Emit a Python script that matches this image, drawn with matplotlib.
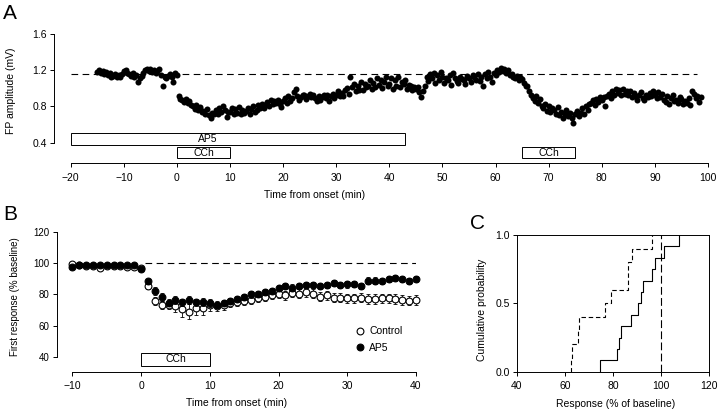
import numpy as np
import matplotlib
matplotlib.use('Agg')
import matplotlib.pyplot as plt
from matplotlib.patches import Rectangle

plt.rcParams['font.family'] = ['Liberation Sans', 'DejaVu Sans']
plt.rcParams['font.size'] = 7.5

# ---------------- Panel A data ----------------
fp_t0 = -15.0          # first sample time (min)
fp_dt = 1.0 / 3.0      # sampling interval (min)
fp_amp = [
    1.18, 1.20, 1.17,  1.19, 1.16, 1.18,  1.15, 1.17, 1.13,  1.14, 1.16, 1.12,
    1.15, 1.13, 1.16,  1.19, 1.20, 1.17,  1.16, 1.14, 1.17,  1.13, 1.15, 1.07,
    1.11, 1.14, 1.17,  1.20, 1.21, 1.19,  1.21, 1.18, 1.20,  1.17, 1.19, 1.21,
    1.15, 1.03, 1.13,  1.11, 1.14, 1.16,  1.13, 1.07, 1.17,
    1.15, 0.91, 0.88,  0.87, 0.85, 0.88,  0.84, 0.86, 0.82,  0.80, 0.77, 0.82,
    0.76, 0.79, 0.74,  0.75, 0.72, 0.77,  0.70, 0.67, 0.73,  0.72, 0.76, 0.71,
    0.78, 0.74, 0.80,  0.76, 0.68, 0.74,  0.74, 0.78, 0.72,  0.77, 0.73, 0.79,
    0.72, 0.76, 0.73,  0.75, 0.78, 0.72,  0.77, 0.80, 0.74,  0.76, 0.81, 0.78,
    0.83, 0.78, 0.81,  0.85, 0.80, 0.87,  0.83, 0.86, 0.84,  0.87, 0.83, 0.79,
    0.86, 0.89, 0.84,  0.91, 0.86, 0.89,  0.96, 0.99, 0.91,  0.87, 0.90, 0.93,
    0.93, 0.88, 0.91,  0.94, 0.90, 0.92,  0.89, 0.86, 0.91,  0.87, 0.90, 0.93,
    0.89, 0.92, 0.86,  0.91, 0.94, 0.89,  0.93, 0.97, 0.91,  0.95, 0.91, 0.98,
    1.00, 0.94, 1.13,  1.01, 1.05, 0.97,  1.03, 0.98, 1.07,  0.98, 1.05, 1.01,
    1.03, 1.09, 0.99,  1.06, 1.01, 1.11,  1.04, 1.09, 1.00,  1.07, 1.13, 1.03,
    1.05, 1.11, 0.99,  1.09, 1.03, 1.13,  1.01, 1.07, 1.05,  1.09, 0.99, 1.04,
    1.03, 0.98, 1.01,  0.99, 1.01, 0.96,  0.90, 0.97, 1.03,  1.13, 1.08, 1.16,
    1.11, 1.17, 1.06,  1.15, 1.09, 1.18,  1.13, 1.06, 1.11,  1.09, 1.15, 1.04,
    1.17, 1.11, 1.08,  1.06, 1.13, 1.10,  1.09, 1.05, 1.14,  1.11, 1.07, 1.15,
    1.13, 1.09, 1.16,  1.08, 1.12, 1.03,  1.16, 1.11, 1.18,  1.13, 1.07, 1.17,
    1.15, 1.20, 1.18,  1.22, 1.19, 1.21,  1.17, 1.20, 1.15,  1.16, 1.13, 1.11,
    1.14, 1.09, 1.12,  1.10, 1.06, 1.03,  1.02, 0.97, 0.93,  0.89, 0.86, 0.91,
    0.84, 0.88, 0.80,  0.78, 0.83, 0.75,  0.80, 0.74, 0.78,  0.76, 0.72, 0.79,
    0.70, 0.74, 0.67,  0.71, 0.76, 0.69,  0.73, 0.67, 0.62,  0.71, 0.75, 0.69,
    0.73, 0.78, 0.72,  0.80, 0.76, 0.83,  0.84, 0.87, 0.81,  0.88, 0.85, 0.90,
    0.87, 0.90, 0.80,  0.91, 0.94, 0.89,  0.97, 0.93, 0.99,  0.95, 0.98, 0.92,
    0.99, 0.94, 0.97,  0.93, 0.97, 0.90,  0.95, 0.91, 0.87,  0.92, 0.96, 0.89,
    0.87, 0.93, 0.90,  0.95, 0.91, 0.97,  0.93, 0.89, 0.96,  0.90, 0.94, 0.87,
    0.85, 0.91, 0.83,  0.89, 0.93, 0.86,  0.87, 0.84, 0.90,  0.88, 0.83, 0.86,
    0.84, 0.89, 0.81,  0.97, 0.94, 0.89,  0.91, 0.85, 0.90,
]
fp_baseline = 1.155
ap5_period_a = (-20, 43)
cch_periods_a = [(0, 10), (65, 75)]

# ---------------- Panel B data ----------------
b_time = list(range(-10, 41))
ctrl_mean = [99.5, 99.0, 98.5, 98.5, 96.8, 98.5, 98.5, 98.5, 97.5, 98.0, 97.0,
             85.5, 75.8, 73.2, 73.5, 72.5, 70.5, 69.0, 71.5, 71.0, 73.0,
             72.5, 73.0, 74.5, 75.0, 75.5, 76.5, 77.5, 78.5, 79.5, 80.5,
             79.5, 81.0, 80.5, 81.5, 80.5, 78.5, 79.5, 78.0, 78.0, 77.5,
             77.5, 78.0, 77.0, 77.0, 77.5, 77.5, 77.0, 76.5, 76.0, 76.5]
ctrl_sem = [0.8, 0.7, 0.8, 0.7, 1.0, 0.8, 0.7, 0.8, 0.9, 0.8, 1.2,
            2.0, 2.5, 2.5, 3.0, 4.0, 5.0, 5.0, 4.5, 4.5, 3.5,
            3.0, 3.0, 2.5, 2.5, 2.5, 2.5, 2.5, 2.5, 2.5, 2.5,
            3.0, 2.8, 2.8, 3.0, 3.0, 3.0, 3.0, 3.0, 3.0, 3.0,
            3.0, 3.0, 3.0, 3.0, 3.0, 3.0, 3.0, 3.0, 3.0, 3.0]
ap5_mean = [98.0, 99.0, 99.0, 99.0, 99.0, 99.0, 99.0, 99.0, 99.0, 99.0, 96.5,
            88.5, 82.3, 78.6, 74.8, 76.3, 74.9, 76.3, 74.9, 75.3, 74.3,
            73.0, 74.5, 76.0, 77.0, 78.5, 80.0, 80.5, 81.5, 82.5, 84.0,
            85.5, 84.5, 85.5, 86.0, 86.0, 85.5, 86.0, 87.5, 86.0, 86.5,
            87.0, 85.5, 89.0, 89.0, 88.5, 90.0, 90.5, 90.0, 88.5, 90.0]
ap5_sem = [0.6, 0.6, 0.6, 0.6, 0.6, 0.6, 0.6, 0.6, 0.6, 0.6, 1.0,
           1.5, 2.5, 2.5, 2.0, 2.5, 2.5, 2.5, 2.5, 2.5, 2.5,
           2.0, 2.0, 2.0, 2.0, 2.0, 2.0, 2.0, 2.0, 2.0, 2.0,
           2.0, 2.0, 2.0, 2.0, 2.0, 2.0, 2.0, 2.0, 2.0, 2.0,
           2.0, 2.0, 2.0, 2.0, 2.0, 2.0, 2.0, 2.0, 2.0, 2.0]
b_baseline = 100
cch_period_b = (0, 10)

# ---------------- Panel C data ----------------
ecdf_ctrl = [62.6, 63.2, 65.6, 65.9, 76.9, 79.1, 86.2, 86.5, 87.8, 96.4]
ecdf_ap5 = [74.7, 81.6, 82.4, 83.4, 87.4, 90.6, 91.6, 92.7, 96.4, 97.5, 101.3, 107.6]
c_ref = 100

# ---------------- Figure ----------------
fig = plt.figure(figsize=(7.2, 4.11), dpi=100)
LW = 0.7

def style_axes(ax, lab=7.5):
    for s in ('top', 'right'):
        ax.spines[s].set_visible(False)
    for s in ('left', 'bottom'):
        ax.spines[s].set_linewidth(LW)
    ax.tick_params(direction='out', length=3, width=LW, labelsize=lab, pad=2)

# ----- A -----
axA = fig.add_axes([54/720, (411-163.5)/411, 654/720, 129.5/411])
style_axes(axA)
tA = fp_t0 + fp_dt * np.arange(len(fp_amp))
axA.scatter(tA, fp_amp, s=19, c='k', linewidths=0, zorder=3, clip_on=False)
axA.plot([-20, 98], [fp_baseline, fp_baseline], color='k', lw=0.8, ls=(0, (6, 4)))
axA.add_patch(Rectangle((ap5_period_a[0], 0.372), ap5_period_a[1]-ap5_period_a[0], 0.13,
                        fill=False, lw=LW, ec='k'))
axA.text(5.8, 0.437, 'AP5', ha='center', va='center', fontsize=7.5)
for (a, b) in cch_periods_a:
    axA.add_patch(Rectangle((a, 0.224), b-a, 0.126, fill=False, lw=LW, ec='k'))
    axA.text((a+b)/2, 0.287, 'CCh', ha='center', va='center', fontsize=7.5)
axA.set_xlim(-23.15, 100)
axA.set_ylim(0.168, 1.6)
axA.spines['left'].set_bounds(0.4, 1.6)
axA.spines['bottom'].set_bounds(-20, 100)
axA.set_xticks(range(-20, 101, 10))
axA.set_yticks([0.4, 0.8, 1.2, 1.6])
axA.set_yticklabels(['0.4', '0.8', '1.2', '1.6'])
axA.tick_params(axis='x', pad=4)
axA.set_xlabel('Time from onset (min)', fontsize=7.5)
axA.xaxis.set_label_coords(0.399, -0.205)
axA.set_ylabel('FP amplitude (mV)', fontsize=7.5)
axA.yaxis.set_label_coords(-0.058, 0.56)

# ----- B -----
axB = fig.add_axes([56.5/720, (411-371.7)/411, 359.5/720, 139.4/411])
style_axes(axB, lab=7)
axB.plot([0.6, 40], [b_baseline, b_baseline], color='k', lw=0.8, ls=(0, (6, 4)))
axB.errorbar(b_time, ctrl_mean, yerr=ctrl_sem, fmt='none', ecolor='k',
             elinewidth=0.6, capsize=1.5, capthick=0.6, clip_on=False)
axB.plot(b_time, ctrl_mean, 'o', ms=4.9, mfc='white', mec='k', mew=0.8,
         label='Control', clip_on=False, zorder=3)
axB.errorbar(b_time, ap5_mean, yerr=ap5_sem, fmt='none', ecolor='k',
             elinewidth=0.6, capsize=1.5, capthick=0.6, clip_on=False, zorder=4)
axB.plot(b_time, ap5_mean, 'o', ms=4.9, mfc='k', mec='k', mew=0.8,
         label='AP5', clip_on=False, zorder=5)
axB.add_patch(Rectangle((cch_period_b[0], 34.2), cch_period_b[1]-cch_period_b[0], 8.4,
                        fill=False, lw=LW, ec='k'))
axB.text(sum(cch_period_b)/2, 38.4, 'CCh', ha='center', va='center', fontsize=7.5)
axB.set_xlim(-12.3, 40)
axB.set_ylim(30.35, 120)
axB.spines['left'].set_bounds(40, 120)
axB.spines['bottom'].set_bounds(-10, 40)
axB.set_xticks(range(-10, 41, 10))
axB.set_yticks(range(40, 121, 20))
axB.tick_params(axis='x', pad=4, labelsize=7.5)
axB.set_xlabel('Time from onset (min)', fontsize=7.5)
axB.xaxis.set_label_coords(0.5, -0.19)
axB.set_ylabel('First response (% baseline)', fontsize=7)
axB.yaxis.set_label_coords(-0.1015, 0.536)
axB.legend(loc='upper left', bbox_to_anchor=(0.832, 0.325), frameon=False,
           handlelength=0.8, handletextpad=0.5, labelspacing=0.6,
           borderpad=0, borderaxespad=0, fontsize=7.5)

# ----- C -----
axC = fig.add_axes([516.7/720, (411-371.7)/411, 192.3/720, 136.7/411])
for s in axC.spines.values():
    s.set_linewidth(LW)
axC.tick_params(direction='out', length=3, width=LW, labelsize=7.5, pad=2)
axC.ecdf(ecdf_ctrl, color='k', lw=0.8, ls=(0, (4, 2.5)))
axC.ecdf(ecdf_ap5, color='k', lw=0.8)
axC.axvline(c_ref, color='k', lw=0.8, ls=(0, (7, 3)))
axC.set_xlim(40, 120)
axC.set_ylim(0, 1)
axC.set_xticks(range(40, 121, 20))
axC.set_yticks([0, 0.5, 1.0])
axC.set_yticklabels(['0.0', '0.5', '1.0'])
axC.tick_params(axis='x', pad=4)
axC.set_xlabel('Response (% of baseline)', fontsize=7.5)
axC.xaxis.set_label_coords(0.515, -0.2)
axC.set_ylabel('Cumulative probability', fontsize=7.5)
axC.yaxis.set_label_coords(-0.152, 0.45)

# panel letters
fig.text(3/720, 1-4/411, 'A', fontsize=15, ha='left', va='top')
fig.text(3/720, 1-205/411, 'B', fontsize=15, ha='left', va='top')
fig.text(470/720, 1-214/411, 'C', fontsize=15, ha='left', va='top')

fig.savefig('out.png', dpi=100)
